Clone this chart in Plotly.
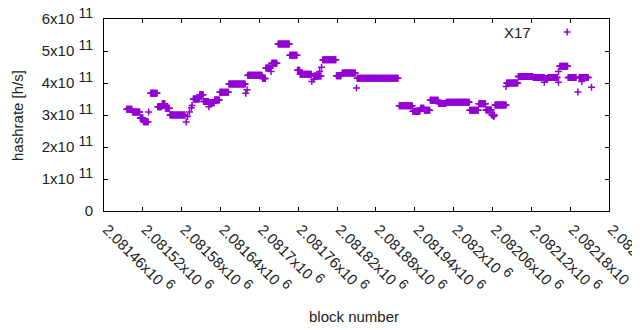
import plotly.graph_objects as go

# Runs of consecutive blocks sharing the same hashrate (values in 1e11 h/s)
run_start = [2081495, 2081504, 2081516, 2081521, 2081532, 2081543, 2081550, 2081555, 2081562,
             2081598, 2081608, 2081614, 2081623, 2081631, 2081639, 2081653, 2081682, 2081705,
             2081710, 2081719, 2081729, 2081747, 2081759, 2081763, 2081785, 2081798, 2081819,
             2081828, 2081851, 2081916, 2081937, 2081949, 2081955, 2081964, 2081977, 2081989,
             2082025, 2082039, 2082050, 2082059, 2082064, 2082082, 2082100, 2082123, 2082141,
             2082146, 2082164, 2082177, 2082194]
run_end = [2081503, 2081515, 2081520, 2081528, 2081542, 2081549, 2081554, 2081561, 2081585,
           2081607, 2081613, 2081621, 2081630, 2081638, 2081652, 2081678, 2081704, 2081709,
           2081717, 2081727, 2081746, 2081758, 2081762, 2081780, 2081795, 2081818, 2081826,
           2081848, 2081914, 2081936, 2081948, 2081954, 2081963, 2081976, 2081988, 2082024,
           2082038, 2082049, 2082058, 2082063, 2082081, 2082099, 2082122, 2082140, 2082145,
           2082160, 2082176, 2082189, 2082208]
run_value = [3.18, 3.09, 2.91, 2.79, 3.68, 3.26, 3.35, 3.21, 3.00,
             3.50, 3.63, 3.42, 3.38, 3.47, 3.71, 3.97, 4.24, 4.14,
             4.47, 4.62, 5.22, 4.87, 4.40, 4.27, 4.22, 4.73, 4.23,
             4.31, 4.15, 3.29, 3.12, 3.21, 3.15, 3.46, 3.36, 3.40,
             3.15, 3.35, 3.16, 3.00, 3.31, 4.00, 4.20, 4.17, 4.13,
             4.17, 4.52, 4.17, 4.17]

# Isolated blocks
single_block = [2081529, 2081587, 2081589, 2081592, 2081595, 2081596, 2081622, 2081679,
                2081681, 2081718, 2081781, 2081784, 2081793, 2081796, 2081850, 2082062,
                2082081, 2082140, 2082162, 2082162, 2082192, 2082198, 2082213]
single_value = [3.09, 2.78, 2.95, 3.09, 3.23, 3.30, 3.26, 3.68,
                3.79, 4.36, 4.05, 4.12, 4.36, 4.49, 3.84, 2.95,
                3.89, 4.02, 4.02, 4.36, 3.72, 4.05, 3.87]

x_ticks = [2081460, 2081520, 2081580, 2081640, 2081700, 2081760, 2081820,
           2081880, 2081940, 2082000, 2082060, 2082120, 2082180, 2082240]
x_tick_labels = ["2.08146", "2.08152", "2.08158", "2.08164", "2.0817", "2.08176", "2.08182",
                 "2.08188", "2.08194", "2.082", "2.08206", "2.08212", "2.08218", "2.08224"]
y_ticks = [0, 1e11, 2e11, 3e11, 4e11, 5e11, 6e11]
y_tick_labels = ["0", "1", "2", "3", "4", "5", "6"]

xs, ys = [], []
for s, e, v in zip(run_start, run_end, run_value):
    for b in range(s, e + 1):
        xs.append(b)
        ys.append(v * 1e11)
for b, v in zip(single_block, single_value):
    xs.append(b)
    ys.append(v * 1e11)

COLOR = "#9400D3"
FONT = "Liberation Sans, Arial, sans-serif"
TXT = "#222"
marker = dict(symbol="cross-thin", size=5, line=dict(color=COLOR, width=1.5), color=COLOR)


def sup(t):
    return '<sup><span style="font-size:14px">' + t + "</span></sup>"


fig = go.Figure()
fig.add_trace(go.Scatter(x=xs, y=ys, mode="markers", marker=marker, showlegend=False,
                         hoverinfo="skip"))
# legend sample
fig.add_trace(go.Scatter(x=[0.917], y=[0.932], mode="markers", marker=marker,
                         xaxis="x2", yaxis="y2", showlegend=False, hoverinfo="skip"))

axis_common = dict(showline=True, linecolor="black", linewidth=1, mirror="ticks",
                   ticks="inside", ticklen=4, tickwidth=1, tickcolor="black",
                   showgrid=False, zeroline=False, automargin=False,
                   ticklabeloverflow="allow",
                   tickfont=dict(family=FONT, size=15, color=TXT))

fig.update_layout(
    width=640, height=330,
    # page body has an 8px default margin; compensate so the plot box sits at 104..609 x 19..211
    margin=dict(l=96, r=39, t=11, b=127, autoexpand=False),
    paper_bgcolor="white", plot_bgcolor="white",
    font=dict(family=FONT, size=15, color=TXT),
    xaxis=dict(range=[x_ticks[0], x_ticks[-1]], tickvals=x_ticks,
               ticktext=["\u00a0" + t + "x10 " + sup("6") for t in x_tick_labels],
               tickangle=45, ticklabelstandoff=0, **axis_common),
    yaxis=dict(range=[0, 6e11], tickvals=y_ticks,
               ticktext=[t if t == "0" else t + "x10 " + sup("11") for t in y_tick_labels],
               ticklabelstandoff=7, **axis_common),
    xaxis2=dict(range=[0, 1], overlaying="x", visible=False),
    yaxis2=dict(range=[0, 1], overlaying="y", visible=False),
    annotations=[
        dict(text="X17", xref="paper", yref="paper", x=0.8495, y=0.932,
             xanchor="right", yanchor="middle", showarrow=False,
             font=dict(family=FONT, size=15, color=TXT)),
        dict(text="hashrate [h/s]", xref="paper", yref="paper", x=-0.1723, y=0.5,
             xanchor="center", yanchor="middle", textangle=-90, showarrow=False,
             font=dict(family=FONT, size=15, color=TXT)),
        dict(text="block number", xref="paper", yref="paper", x=0.495, y=-0.547,
             xanchor="center", yanchor="middle", showarrow=False,
             font=dict(family=FONT, size=15, color=TXT)),
    ],
)
fig.write_html("out.html")
